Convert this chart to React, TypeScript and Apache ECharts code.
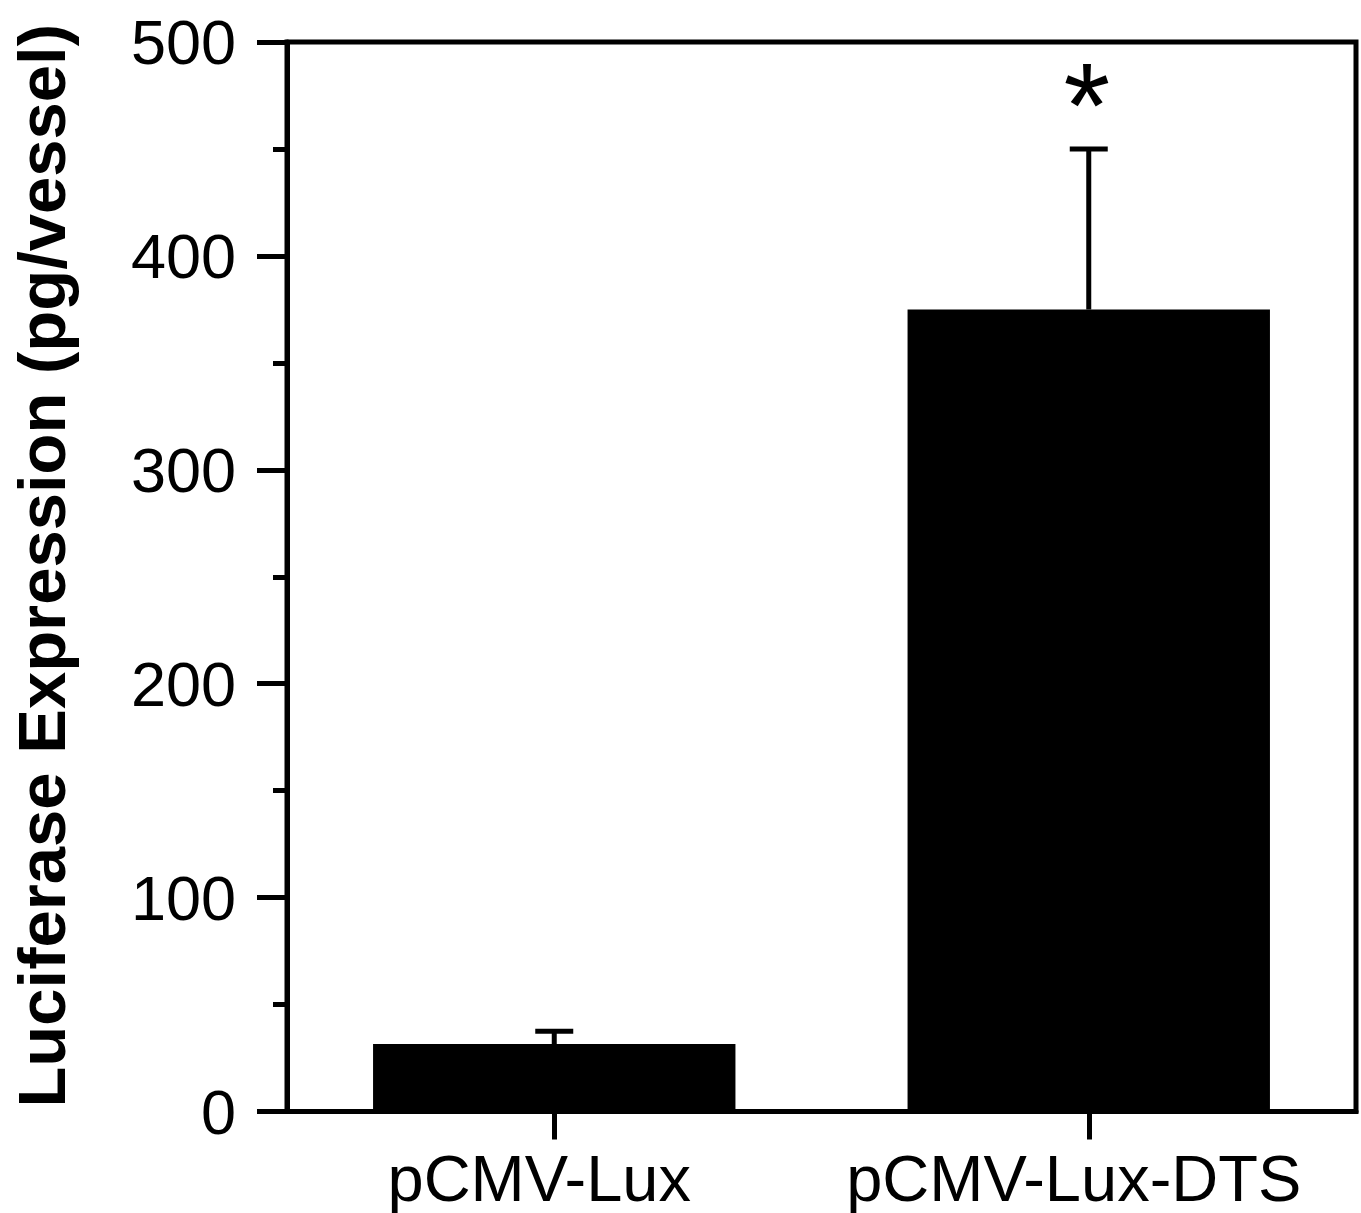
import React, { useEffect, useRef } from "react";
import * as echarts from "echarts";

const categories = ["pCMV-Lux", "pCMV-Lux-DTS"];
const means = [31.5, 375];
const upperErrors = [6, 75];
const significance = ["", "*"];
const yTicks = { min: 0, max: 500, interval: 100 };
const yTitle = "Luciferase Expression (pg/vessel)";

const FONT = "Liberation Sans, Arial, Helvetica, sans-serif";

export default function App() {
  const ref = useRef<HTMLDivElement>(null);
  useEffect(() => {
    if (!ref.current) return;
    const chart = echarts.init(ref.current, undefined, { renderer: "svg" });
    const errData = categories.map((_, i) => [i, means[i], upperErrors[i]]);
    chart.setOption({
      animation: false,
      backgroundColor: "#fff",
      grid: {
        left: 284,
        right: 5,
        top: 42,
        bottom: 101.5,
        show: true,
        borderColor: "#000",
        borderWidth: 5,
        backgroundColor: "transparent",
      },
      xAxis: {
        type: "category",
        data: categories,
        axisLine: { show: true, lineStyle: { color: "#000", width: 5 } },
        axisTick: {
          show: true,
          alignWithLabel: true,
          inside: false,
          length: 28,
          lineStyle: { color: "#000", width: 5 },
        },
        axisLabel: {
          color: "#000",
          fontSize: 65,
          fontFamily: FONT,
          margin: 34,
          interval: 0,
          hideOverlap: false,
          padding: [0, 30, 0, 0],
        },
        splitLine: { show: false },
      },
      yAxis: {
        type: "value",
        min: yTicks.min,
        max: yTicks.max,
        interval: yTicks.interval,
        name: yTitle,
        nameLocation: "middle",
        nameRotate: 90,
        nameGap: 212,
        nameTextStyle: {
          color: "#000",
          fontSize: 67,
          fontWeight: "bold",
          fontFamily: FONT,
          padding: [0, 0, 0, 22],
        },
        axisLine: { show: true, lineStyle: { color: "#000", width: 5 } },
        axisTick: {
          show: true,
          inside: false,
          length: 30,
          lineStyle: { color: "#000", width: 5 },
        },
        minorTick: {
          show: true,
          splitNumber: 2,
          length: 14,
          lineStyle: { color: "#000", width: 5 },
        },
        axisLabel: {
          color: "#000",
          fontSize: 63,
          fontFamily: FONT,
          margin: 51,
        },
        splitLine: { show: false },
      },
      series: [
        {
          type: "bar",
          data: means,
          barWidth: "67.8%",
          itemStyle: { color: "#000" },
          z: 2,
        },
        {
          type: "custom",
          data: errData,
          z: 3,
          renderItem: (params: any, api: any) => {
            const i = api.value(0);
            const m = api.value(1);
            const e = api.value(2);
            const p0 = api.coord([i, m]);
            const p1 = api.coord([i, m + e]);
            const half = 19;
            const children: any[] = [
              {
                type: "line",
                shape: { x1: p0[0], y1: p0[1], x2: p1[0], y2: p1[1] },
                style: { stroke: "#000", lineWidth: 5 },
              },
              {
                type: "line",
                shape: { x1: p1[0] - half, y1: p1[1], x2: p1[0] + half, y2: p1[1] },
                style: { stroke: "#000", lineWidth: 5 },
              },
            ];
            const sig = significance[params.dataIndex];
            if (sig) {
              children.push({
                type: "text",
                x: p1[0] - 2,
                y: p1[1] - 104,
                style: {
                  text: sig,
                  fill: "#000",
                  fontSize: 120,
                  fontFamily: FONT,
                  align: "center",
                  verticalAlign: "top",
                },
              });
            }
            return { type: "group", children };
          },
        },
      ],
    });
    return () => chart.dispose();
  }, []);
  return (
    <div
      ref={ref}
      style={{ position: "fixed", left: 0, top: 0, width: 1361, height: 1213 }}
    />
  );
}
